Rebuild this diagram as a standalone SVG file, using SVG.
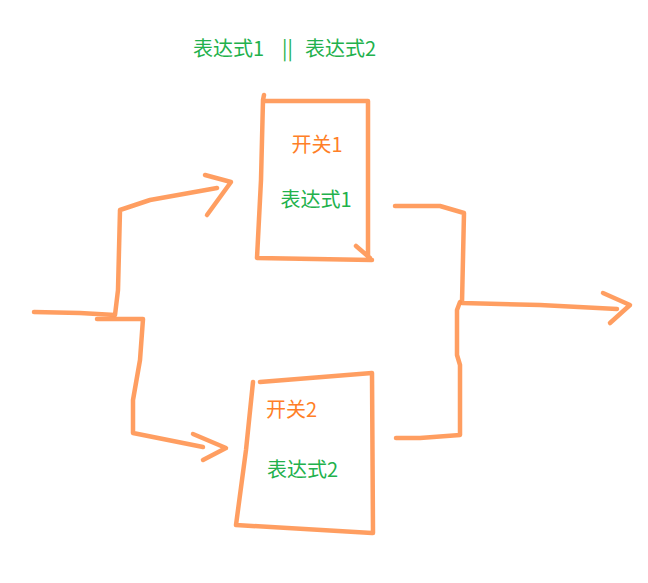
<svg xmlns="http://www.w3.org/2000/svg" width="648" height="583" viewBox="0 0 648 583">
<style>
.ln{fill:none;stroke:#ff9450;stroke-width:4.5;stroke-linecap:round;stroke-linejoin:round;opacity:0.9}
.t{font-family:"Microsoft YaHei","Noto Sans CJK SC","Noto Sans",sans-serif;font-size:20px;dominant-baseline:central}
.g{fill:#22b14c}
.o{fill:#ff7f27}
</style>
<rect width="648" height="583" fill="#ffffff"/>
<g id="title">
<text class="t g" x="193" y="47">表达式1</text>
<text class="t g" x="282" y="47">||</text>
<text class="t g" x="305" y="47">表达式2</text>
</g>
<g id="node1">
<path class="ln" d="M264,95 L263,100 L261,180 L257,258 L372,260 M264,101 L368,101 L368,258 M356,246 L370,258"/>
<text class="t o" x="317" y="143" text-anchor="middle">开关1</text>
<text class="t g" x="316" y="198" text-anchor="middle">表达式1</text>
</g>
<g id="node2">
<path class="ln" d="M253,382 L246,450 L236,525 L372,533 M260,382 L372,373 L373,533"/>
<text class="t o" x="266" y="408">开关2</text>
<text class="t g" x="267" y="468">表达式2</text>
</g>
<g id="connectors">
<path class="ln" d="M34,312 L80,313 L115,315 L118,290 L120,210 L150,200 L217,188"/>
<path class="ln" d="M205,175 L231,182 L207,215"/>
<path class="ln" d="M97,319 L143,319 L140,360 L133,400 L133,433 L203,447"/>
<path class="ln" d="M193,434 L226,448 L203,460"/>
<path class="ln" d="M395,206 L440,206 L464,213 L462,303 L540,305 L617,309"/>
<path class="ln" d="M603,293 L630,305 L610,323"/>
<path class="ln" d="M460,302 L457,310 L457,355 L460,365 L460,435 L420,438 L396,438"/>
</g>
</svg>
